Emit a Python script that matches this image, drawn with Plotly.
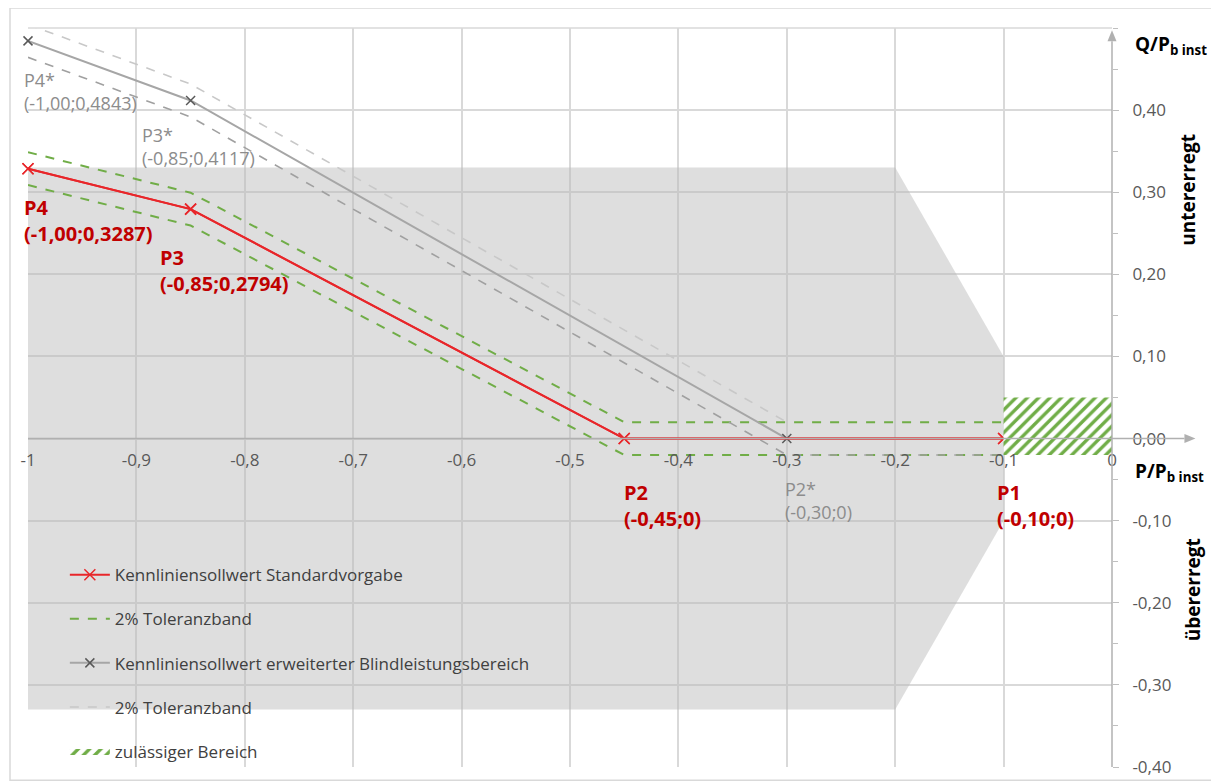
import plotly.graph_objects as go

# ---------------- data ----------------
std_x = [-1.0, -0.85, -0.45, -0.10]
std_y = [0.3287, 0.2794, 0.0, 0.0]
std_tol_upper = [0.3487, 0.2994, 0.02, 0.02]
std_tol_lower = [0.3087, 0.2594, -0.02, -0.02]

ext_x = [-1.0, -0.85, -0.30, -0.10]
ext_y = [0.4843, 0.4117, 0.0, 0.0]
ext_tol_upper = [0.5043, 0.4317, 0.02, 0.02]
ext_tol_lower = [0.4643, 0.3917, -0.02, -0.02]

area_x = [-1.0, -0.2, -0.1, -0.1, -0.2, -1.0, -1.0]
area_y = [0.33, 0.33, 0.10, -0.10, -0.33, -0.33, 0.33]

ok_x = [-0.1, 0.0, 0.0, -0.1, -0.1]
ok_y = [-0.02, -0.02, 0.05, 0.05, -0.02]

x_tickvals = [-1.0, -0.9, -0.8, -0.7, -0.6, -0.5, -0.4, -0.3, -0.2, -0.1, 0.0]
x_ticktext = ["-1", "-0,9", "-0,8", "-0,7", "-0,6", "-0,5", "-0,4", "-0,3", "-0,2", "-0,1", "0"]
y_tickvals = [-0.4, -0.3, -0.2, -0.1, 0.0, 0.1, 0.2, 0.3, 0.4]
y_ticktext = ["-0,40", "-0,30", "-0,20", "-0,10", "0,00", "0,10", "0,20", "0,30", "0,40"]

legend_names = [
    "Kennliniensollwert Standardvorgabe",
    "2% Toleranzband",
    "Kennliniensollwert erweiterter Blindleistungsbereich",
    "2% Toleranzband",
    "zulässiger Bereich",
]

# point labels: (name, coordinates text, x anchor, y centre, pixel shift)
red_labels = [
    ("P4", "(-1,00;0,3287)", -1.0, 0.2659, -6),
    ("P3", "(-0,85;0,2794)", -0.880, 0.2049, 0),
    ("P2", "(-0,45;0)", -0.452, -0.0817, 0),
    ("P1", "(-0,10;0)", -0.108, -0.0811, 0),
]
grey_labels = [
    ("P4*", "(-1,00;0,4843)", -1.0, 0.4232, -6),
    ("P3*", "(-0,85;0,4117)", -0.8967, 0.3561, 0),
    ("P2*", "(-0,30;0)", -0.3035, -0.0756, 0),
]

FONT = "Open Sans"
RED = "#e8262a"
DARKRED = "#c00000"
GREEN = "#70ad47"
GREY = "#a6a6a6"
AXIS = "#b0b0b0"

fig = go.Figure()

# shaded region (no legend)
fig.add_trace(go.Scatter(
    x=area_x, y=area_y, mode="lines", fill="toself",
    fillcolor="rgba(185,185,185,0.48)", line=dict(width=0),
    showlegend=False, hoverinfo="skip"))

# red standard line
fig.add_trace(go.Scatter(
    x=std_x, y=std_y, mode="lines+markers", name=legend_names[0],
    legendgroup="g1", cliponaxis=False,
    line=dict(color=RED, width=2),
    marker=dict(symbol="x-thin", size=11, line=dict(color=RED, width=1.5))))

# green tolerance band
fig.add_trace(go.Scatter(
    x=std_x + [None] + std_x, y=std_tol_upper + [None] + std_tol_lower,
    mode="lines", name=legend_names[1], legendgroup="g2",
    line=dict(color=GREEN, width=2, dash="dash")))

# grey extended line
fig.add_trace(go.Scatter(
    x=ext_x[:3], y=ext_y[:3], mode="lines+markers", name=legend_names[2],
    legendgroup="g3", cliponaxis=False,
    line=dict(color=GREY, width=2),
    marker=dict(symbol="x-thin", size=9, line=dict(color="#595959", width=1.5))))

# grey tolerance band
fig.add_trace(go.Scatter(
    x=ext_x[:3], y=ext_tol_upper[:3], mode="lines", name=legend_names[3],
    legendgroup="g4",
    line=dict(color="#c8c8c8", width=1.6, dash="dash")))
fig.add_trace(go.Scatter(
    x=ext_x, y=ext_tol_lower, mode="lines", name=legend_names[3],
    legendgroup="g4", showlegend=False,
    line=dict(color="#a0a0a0", width=1.6, dash="dash")))

# red line again on top of the overlapping segment
fig.add_trace(go.Scatter(
    x=std_x, y=std_y, mode="lines+markers", showlegend=False, cliponaxis=False,
    line=dict(color=RED, width=2),
    marker=dict(symbol="x-thin", size=11, line=dict(color=RED, width=1.5)),
    hoverinfo="skip"))

# hatched permitted region (drawn last, above the P1 end of the red line)
fig.add_trace(go.Scatter(
    x=ok_x, y=ok_y, mode="lines", fill="toself", name=legend_names[4],
    legendgroup="g5",
    line=dict(width=0, color=GREEN),
    fillcolor="rgba(0,0,0,0)",
    fillpattern=dict(shape="/", fgcolor=GREEN, fgopacity=1, bgcolor="white",
                     size=8, solidity=0.42)))

annotations = []
for name, coords, x, y, shift in red_labels:
    annotations.append(dict(x=x, y=y, xref="x", yref="y", xshift=shift,
                            text="<b>" + name + "</b><br><b>" + coords + "</b>",
                            showarrow=False, xanchor="left", yanchor="middle", align="left",
                            font=dict(family=FONT, size=20, color=DARKRED)))
for name, coords, x, y, shift in grey_labels:
    annotations.append(dict(x=x, y=y, xref="x", yref="y", xshift=shift,
                            text=name + "<br>" + coords,
                            showarrow=False, xanchor="left", yanchor="middle", align="left",
                            font=dict(family=FONT, size=18, color="#8c8c8c")))

# axis titles
annotations += [
    dict(x=1.019, y=0.977, xref="paper", yref="paper", text="<b>Q/P<sub>b inst</sub></b>",
         showarrow=False, xanchor="left", yanchor="middle",
         font=dict(family=FONT, size=19, color="#000000")),
    dict(x=1.019, y=0.399, xref="paper", yref="paper", text="<b>P/P<sub>b inst</sub></b>",
         showarrow=False, xanchor="left", yanchor="middle",
         font=dict(family=FONT, size=19, color="#000000")),
    dict(x=1.070, y=0.781, xref="paper", yref="paper", text="<b>untererregt</b>",
         showarrow=False, xanchor="center", yanchor="middle", textangle=-90,
         font=dict(family=FONT, size=19, color="#000000")),
    dict(x=1.075, y=0.2395, xref="paper", yref="paper", text="<b>übererregt</b>",
         showarrow=False, xanchor="center", yanchor="middle", textangle=-90,
         font=dict(family=FONT, size=19, color="#000000")),
]

# geometry helpers for axis arrows (paper coordinates)
PLOT_W, PLOT_H = 1084, 739
Y0_PAPER = 0.4 / 0.9  # paper position of Q = 0
tip_x = 1.077
ah_len_x = 11 / PLOT_W
ah_half_y = 4.5 / PLOT_H
ah_len_y = 11 / PLOT_H
ah_half_x = 4.5 / PLOT_W

shapes = [
    # outer frame
    dict(type="rect", xref="paper", yref="paper", x0=-0.0166, x1=1.095,
         y0=-0.018, y1=1.027, line=dict(color="#d9d9d9", width=1.5), layer="below"),
    # top border of the plot area
    dict(type="line", xref="paper", yref="paper", x0=0, x1=1, y0=1, y1=1,
         line=dict(color="#d9d9d9", width=1.5), layer="below"),
    # horizontal axis line with arrow
    dict(type="line", xref="paper", yref="paper", x0=0, x1=tip_x - ah_len_x,
         y0=Y0_PAPER, y1=Y0_PAPER, line=dict(color=AXIS, width=1.5)),
    dict(type="path", xref="paper", yref="paper", fillcolor=AXIS, line=dict(width=0),
         path=f"M {tip_x} {Y0_PAPER} L {tip_x - ah_len_x} {Y0_PAPER + ah_half_y} "
              f"L {tip_x - ah_len_x} {Y0_PAPER - ah_half_y} Z"),
    # vertical axis line with arrow
    dict(type="line", xref="paper", yref="paper", x0=1, x1=1, y0=0, y1=0.997 - ah_len_y,
         line=dict(color=AXIS, width=1.5)),
    dict(type="path", xref="paper", yref="paper", fillcolor=AXIS, line=dict(width=0),
         path=f"M 1 0.997 L {1 - ah_half_x} {0.997 - ah_len_y} "
              f"L {1 + ah_half_x} {0.997 - ah_len_y} Z"),
]

fig.update_layout(
    width=1211, height=775,
    margin=dict(l=20, r=107, t=20, b=16, autoexpand=False),
    paper_bgcolor="white", plot_bgcolor="white",
    font=dict(family=FONT, size=17, color="#404040"),
    annotations=annotations,
    shapes=shapes,
    legend=dict(x=0.034, y=0.284, xanchor="left", yanchor="top",
                bgcolor="rgba(0,0,0,0)", font=dict(family=FONT, size=17, color="#404040"),
                tracegroupgap=19, itemwidth=40, traceorder="grouped"),
)

fig.update_xaxes(
    range=[-1.0, 0.0], tickvals=x_tickvals, ticktext=x_ticktext,
    showgrid=True, gridcolor="#d9d9d9", gridwidth=1.5,
    zeroline=False, showline=False, ticks="", automargin=False,
    anchor="free", position=Y0_PAPER, ticklabelstandoff=9,
    tickfont=dict(family=FONT, size=17, color="#595959"))
fig.update_yaxes(
    range=[-0.4, 0.5], tickvals=y_tickvals, ticktext=y_ticktext,
    side="right", showgrid=True, gridcolor="#d9d9d9", gridwidth=1.5,
    zeroline=False, showline=False, ticks="outside", ticklen=6, tickcolor="#bfbfbf",
    ticklabelstandoff=10, automargin=False,
    minor=dict(dtick=0.05, ticks="outside", ticklen=5, tickcolor="#bfbfbf", showgrid=False),
    tickfont=dict(family=FONT, size=17, color="#595959"))

fig.write_html("out.html")
